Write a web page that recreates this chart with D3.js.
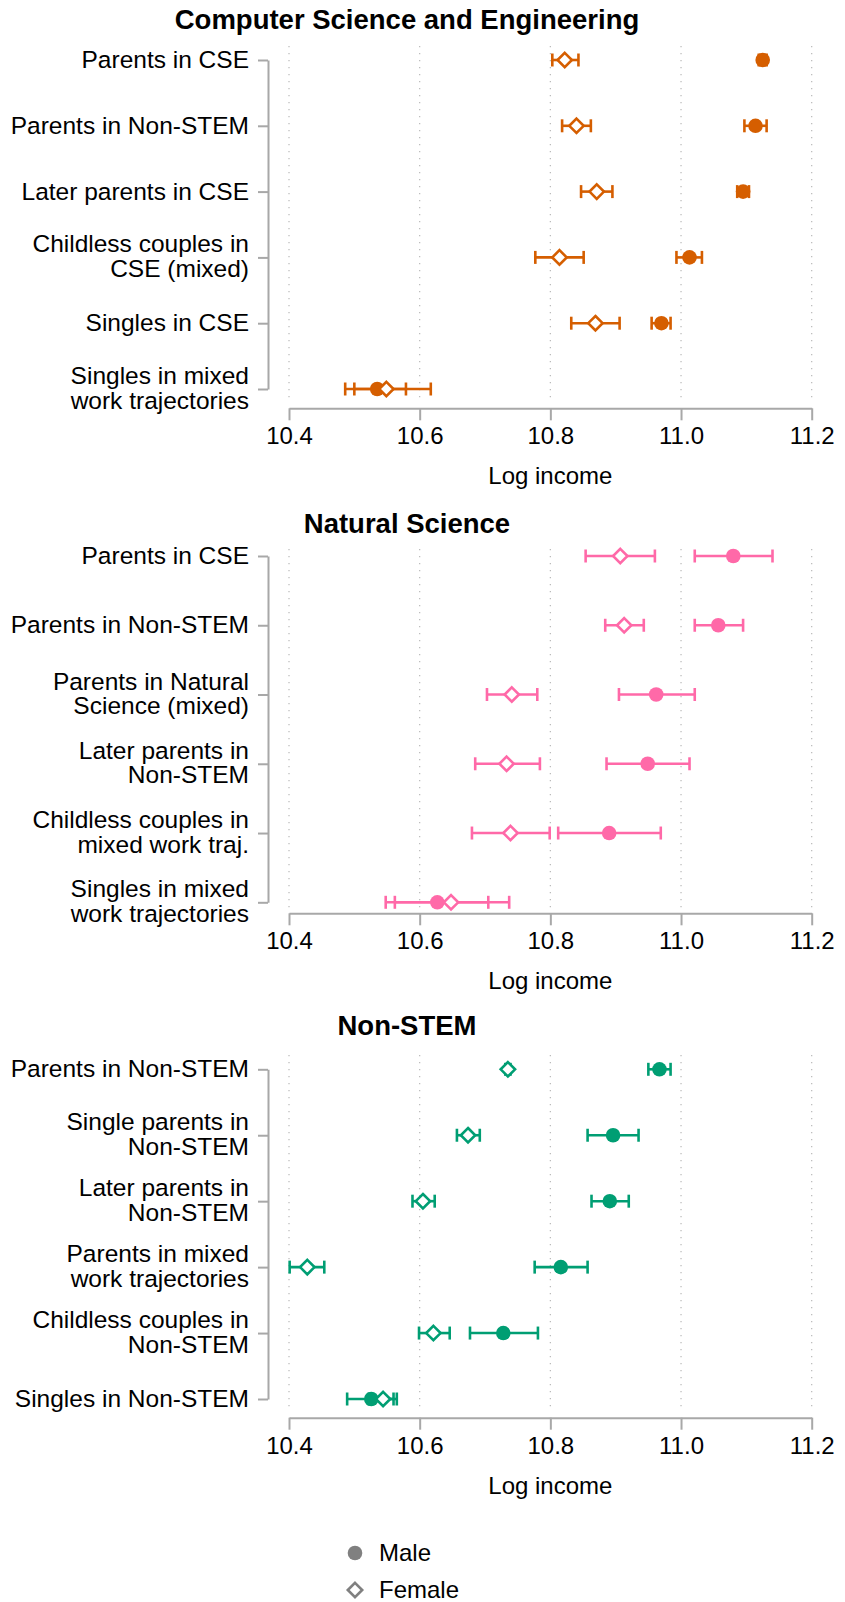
<!DOCTYPE html>
<html><head><meta charset="utf-8">
<script src="https://cdn.jsdelivr.net/npm/d3@7"></script>
<style>
html,body{margin:0;padding:0;background:#fff;}
svg{display:block;font-family:"Liberation Sans",Arial,Helvetica,sans-serif;}
</style></head>
<body>
<svg id="chart" width="845" height="1602"></svg>
<script>
// ---------------- DATA ----------------
const xTicks = [10.4, 10.6, 10.8, 11.0, 11.2];
const xTickLabels = ["10.4", "10.6", "10.8", "11.0", "11.2"];
const xTitle = "Log income";
const legendLabels = ["Male", "Female"];

// Computer Science and Engineering
const cseTitle = "Computer Science and Engineering";
const cseLabels = ["Parents in CSE", "Parents in Non-STEM", "Later parents in CSE",
  "Childless couples in\nCSE (mixed)", "Singles in CSE", "Singles in mixed\nwork trajectories"];
const cseMale   = [11.125, 11.114, 11.095, 11.013, 10.970, 10.535];
const cseMaleLo = [11.119, 11.097, 11.086, 10.993, 10.955, 10.486];
const cseMaleHi = [11.131, 11.131, 11.104, 11.032, 10.984, 10.579];
const cseFem    = [10.822, 10.840, 10.871, 10.814, 10.869, 10.549];
const cseFemLo  = [10.803, 10.818, 10.847, 10.777, 10.832, 10.500];
const cseFemHi  = [10.843, 10.862, 10.895, 10.851, 10.906, 10.617];

// Natural Science
const natTitle = "Natural Science";
const natLabels = ["Parents in CSE", "Parents in Non-STEM", "Parents in Natural\nScience (mixed)",
  "Later parents in\nNon-STEM", "Childless couples in\nmixed work traj.", "Singles in mixed\nwork trajectories"];
const natMale   = [11.080, 11.057, 10.962, 10.949, 10.890, 10.627];
const natMaleLo = [11.021, 11.021, 10.905, 10.886, 10.812, 10.548];
const natMaleHi = [11.140, 11.095, 11.021, 11.013, 10.969, 10.705];
const natFem    = [10.907, 10.913, 10.741, 10.733, 10.739, 10.648];
const natFemLo  = [10.854, 10.884, 10.703, 10.685, 10.680, 10.562];
const natFemHi  = [10.960, 10.943, 10.780, 10.784, 10.799, 10.737];

// Non-STEM
const nsTitle = "Non-STEM";
const nsLabels = ["Parents in Non-STEM", "Single parents in\nNon-STEM", "Later parents in\nNon-STEM",
  "Parents in mixed\nwork trajectories", "Childless couples in\nNon-STEM", "Singles in Non-STEM"];
const nsMale   = [10.967, 10.896, 10.891, 10.816, 10.728, 10.526];
const nsMaleLo = [10.950, 10.857, 10.863, 10.776, 10.677, 10.489];
const nsMaleHi = [10.984, 10.935, 10.920, 10.857, 10.781, 10.560];
const nsFem    = [10.735, 10.674, 10.605, 10.428, 10.621, 10.544];
const nsFemLo  = [10.731, 10.657, 10.589, 10.401, 10.599, 10.522];
const nsFemHi  = [10.739, 10.692, 10.623, 10.454, 10.646, 10.565];

const colors = {cse: "#D55E00", nat: "#FF69A8", ns: "#009E73"};

// ---------------- LAYOUT ----------------
const svg = d3.select("#chart");
const axisGray = "#A8A8A8";
const gridGray = "#B8B8B8";
const x = d3.scaleLinear().domain([10.4, 11.2]).range([289, 811.7]);

const panels = [
  {title: cseTitle, labels: cseLabels, m: cseMale, mlo: cseMaleLo, mhi: cseMaleHi,
   f: cseFem, flo: cseFemLo, fhi: cseFemHi, color: colors.cse,
   titleY: 19, rowTop: 60, rowBot: 389, axisY: 408.3, gridTop: 46, gridBot: 401},
  {title: natTitle, labels: natLabels, m: natMale, mlo: natMaleLo, mhi: natMaleHi,
   f: natFem, flo: natFemLo, fhi: natFemHi, color: colors.nat,
   titleY: 523, rowTop: 556, rowBot: 902.3, axisY: 913.3, gridTop: 549, gridBot: 909},
  {title: nsTitle, labels: nsLabels, m: nsMale, mlo: nsMaleLo, mhi: nsMaleHi,
   f: nsFem, flo: nsFemLo, fhi: nsFemHi, color: colors.ns,
   titleY: 1025, rowTop: 1069.3, rowBot: 1399, axisY: 1417.7, gridTop: 1055, gridBot: 1412}
];

const diamond = (s) => `M0,${-s}L${s},0L0,${s}L${-s},0Z`;

panels.forEach(p => {
  const g = svg.append("g");
  const y = d3.scalePoint().domain(p.labels).range([p.rowTop, p.rowBot]);

  // title
  g.append("text").attr("x", 407).attr("y", p.titleY + 10)
    .attr("text-anchor", "middle").attr("font-weight", "bold")
    .attr("font-size", 27.5).attr("fill", "#000").text(p.title);

  // grid lines
  g.append("g").selectAll("line").data(xTicks).join("line")
    .attr("x1", d => x(d)).attr("x2", d => x(d))
    .attr("y1", p.gridTop).attr("y2", p.gridBot)
    .attr("stroke", gridGray).attr("stroke-width", 1.2)
    .attr("stroke-dasharray", "1.2,5.8");

  // x axis
  const xa = d3.axisBottom(x).tickValues(xTicks).tickFormat((d, i) => xTickLabels[i])
    .tickSize(12).tickSizeOuter(0).tickPadding(7);
  const xg = g.append("g").attr("transform", `translate(0,${p.axisY})`).call(xa);
  xg.select(".domain").attr("stroke", axisGray).attr("stroke-width", 2);
  xg.selectAll(".tick line").attr("stroke", axisGray).attr("stroke-width", 2);
  xg.selectAll(".tick text").attr("font-size", 24).attr("fill", "#000")
    .attr("font-family", "Liberation Sans, Arial, sans-serif");
  g.append("text").attr("x", (x(10.4) + x(11.2)) / 2).attr("y", p.axisY + 76)
    .attr("text-anchor", "middle").attr("font-size", 24).attr("fill", "#000").text(xTitle);

  // y axis
  const ya = d3.axisLeft(y).tickSize(10).tickSizeOuter(0).tickFormat("");
  const yg = g.append("g").attr("transform", "translate(268,0)").call(ya);
  yg.select(".domain").attr("stroke", axisGray).attr("stroke-width", 2);
  yg.selectAll(".tick line").attr("stroke", axisGray).attr("stroke-width", 2);
  // y labels (multi-line)
  p.labels.forEach(lab => {
    const lines = lab.split("\n");
    const t = g.append("text").attr("text-anchor", "end").attr("font-size", 24.5).attr("fill", "#000");
    const y0 = y(lab);
    lines.forEach((ln, i) => {
      const off = lines.length === 1 ? 8 : (i === 0 ? -5 : 19.5);
      t.append("tspan").attr("x", 249).attr("y", y0 + off).text(ln);
    });
  });

  const idx = d3.range(p.labels.length);
  const cap = 6.5;
  const drawCI = (lo, hi) => {
    const cg = g.append("g").attr("stroke", p.color).attr("stroke-width", 2.6).attr("fill", "none");
    cg.selectAll("line.ci").data(idx).join("line")
      .attr("x1", i => x(lo[i])).attr("x2", i => x(hi[i]))
      .attr("y1", i => y(p.labels[i])).attr("y2", i => y(p.labels[i]));
    cg.selectAll("line.capL").data(idx).join("line")
      .attr("x1", i => x(lo[i])).attr("x2", i => x(lo[i]))
      .attr("y1", i => y(p.labels[i]) - cap).attr("y2", i => y(p.labels[i]) + cap);
    cg.selectAll("line.capR").data(idx).join("line")
      .attr("x1", i => x(hi[i])).attr("x2", i => x(hi[i]))
      .attr("y1", i => y(p.labels[i]) - cap).attr("y2", i => y(p.labels[i]) + cap);
  };
  drawCI(p.mlo, p.mhi);
  drawCI(p.flo, p.fhi);

  g.append("g").selectAll("circle").data(idx).join("circle")
    .attr("cx", i => x(p.m[i])).attr("cy", i => y(p.labels[i])).attr("r", 7.3)
    .attr("fill", p.color);

  g.append("g").selectAll("path").data(idx).join("path")
    .attr("d", diamond(7.2))
    .attr("transform", i => `translate(${x(p.f[i])},${y(p.labels[i])})`)
    .attr("fill", "#fff").attr("stroke", p.color).attr("stroke-width", 2.6);
});

// legend
const lg = svg.append("g");
lg.append("circle").attr("cx", 355).attr("cy", 1553).attr("r", 7.3).attr("fill", "#808080");
lg.append("path").attr("d", diamond(7.2)).attr("transform", "translate(355,1590)")
  .attr("fill", "#fff").attr("stroke", "#808080").attr("stroke-width", 2.6);
lg.append("text").attr("x", 379).attr("y", 1561).attr("font-size", 24).attr("fill", "#000").text(legendLabels[0]);
lg.append("text").attr("x", 379).attr("y", 1598).attr("font-size", 24).attr("fill", "#000").text(legendLabels[1]);
</script>
</body></html>
